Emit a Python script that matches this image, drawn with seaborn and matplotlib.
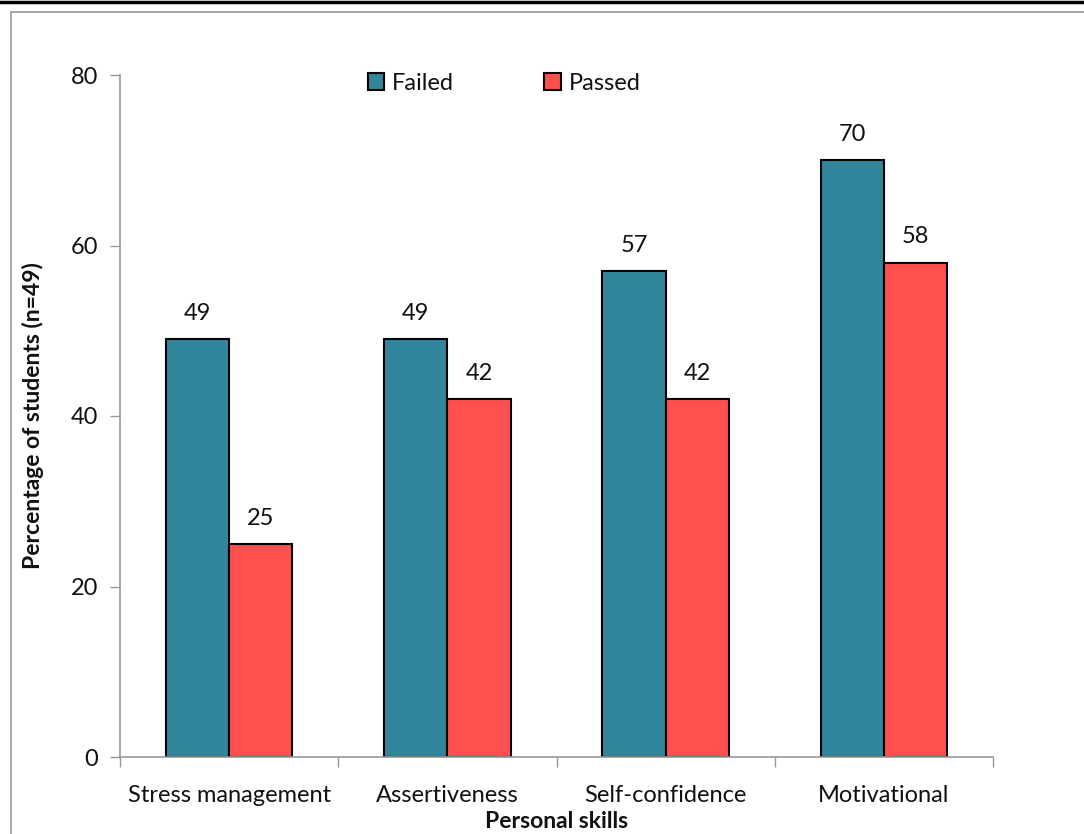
import matplotlib
matplotlib.use("Agg")
import matplotlib.pyplot as plt
import seaborn as sns
import pandas as pd
from matplotlib.patches import Rectangle
from matplotlib.lines import Line2D
from matplotlib.ticker import FixedLocator

skills = ["Stress management", "Assertiveness", "Self-confidence", "Motivational"]
failed = [49, 49, 57, 70]
passed = [25, 42, 42, 58]
groups = ["Failed", "Passed"]
colors = ["#31869C", "#FF4F4F"]

df = pd.DataFrame({
    "skill": skills * 2,
    "pct": failed + passed,
    "group": [groups[0]] * len(skills) + [groups[1]] * len(skills),
})

sns.set_theme(style="white")
plt.rcParams["font.family"] = ["Lato", "DejaVu Sans"]

fig = plt.figure(figsize=(10.84, 8.34), dpi=100)
ax = fig.add_axes([120 / 1084, 1 - 757 / 834, 873 / 1084, 682 / 834])

sns.barplot(data=df, x="skill", y="pct", hue="group", palette=colors,
            width=0.58, edgecolor="black", linewidth=1.5, saturation=1,
            ax=ax, legend=True)

for cont in ax.containers:
    ax.bar_label(cont, fmt="%d", padding=11, fontsize=17, color="#111111")

ax.set_xlim(-0.5, 3.5)
ax.set_ylim(0, 80)
ax.set_yticks([0, 20, 40, 60, 80])
ax.tick_params(axis="y", which="major", direction="out", length=7, width=1,
               color="#999999", labelsize=17, pad=9, left=True, labelcolor="#111111")
ax.tick_params(axis="x", which="major", length=0, labelsize=17, pad=20,
               labelcolor="#111111")
ax.xaxis.set_minor_locator(FixedLocator([-0.5, 0.5, 1.5, 2.5, 3.5]))
ax.tick_params(axis="x", which="minor", direction="out", length=7, width=1,
               color="#999999", bottom=True)

for side in ["top", "right"]:
    ax.spines[side].set_visible(False)
for side in ["left", "bottom"]:
    ax.spines[side].set_color("#999999")
    ax.spines[side].set_linewidth(1.2)

ax.set_xlabel("Personal skills", fontsize=16.5, fontweight="bold", color="#111111",
              va="center")
ax.set_ylabel("Percentage of students (n=49)", fontsize=16.5, fontweight="bold",
              color="#111111", va="center")
ax.xaxis.set_label_coords(0.5, -(821 - 757) / 682)
ax.yaxis.set_label_coords(-(120 - 33) / 873, 0.5)

handles, labels = ax.get_legend_handles_labels()
ax.legend(handles, labels, loc="center", bbox_to_anchor=(0.44, 0.988),
          ncol=2, frameon=False, fontsize=17, columnspacing=3.8,
          handlelength=0.7, handleheight=0.7, handletextpad=0.35,
          labelcolor="#111111")

# outer frame
fig.add_artist(Rectangle((11 / 1084, -0.1), 1.2, 1 - 12 / 834 + 0.1,
                         transform=fig.transFigure, fill=False,
                         edgecolor="#999999", linewidth=1.2))
fig.add_artist(Line2D([0, 1], [1 - 1.5 / 834, 1 - 1.5 / 834],
                      transform=fig.transFigure, color="black", linewidth=2.5))

fig.savefig("out.png", dpi=100)
